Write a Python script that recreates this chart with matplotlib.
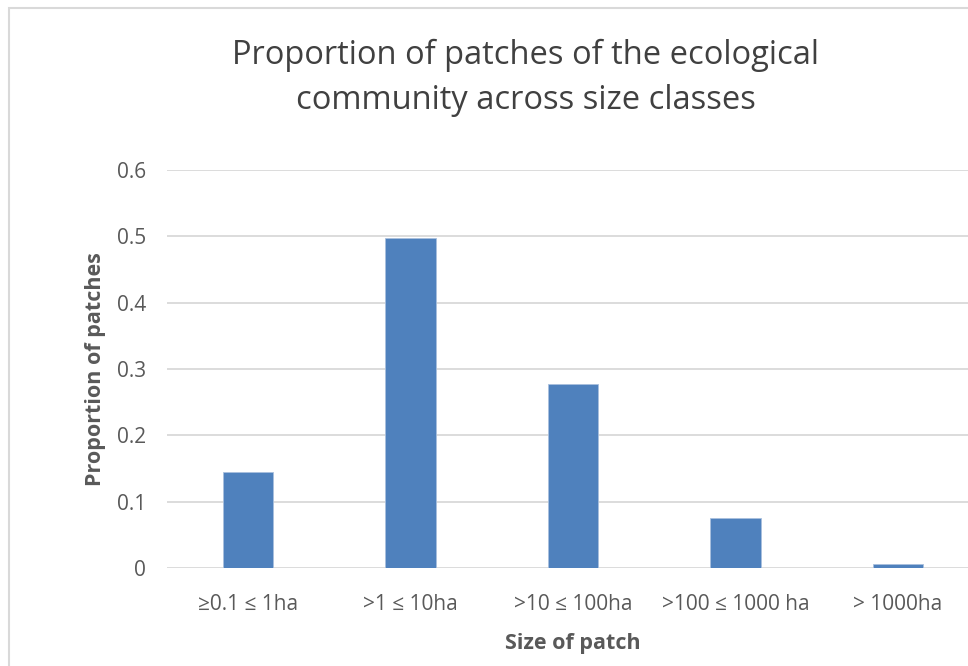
import matplotlib
matplotlib.use("Agg")
import matplotlib.pyplot as plt
from matplotlib.patches import Rectangle

categories = ["≥0.1 ≤ 1ha", ">1 ≤ 10ha", ">10 ≤ 100ha", ">100 ≤ 1000 ha", "> 1000ha"]
values = [0.145, 0.498, 0.277, 0.075, 0.006]
yticks = [0, 0.1, 0.2, 0.3, 0.4, 0.5, 0.6]
ytick_labels = ["0", "0.1", "0.2", "0.3", "0.4", "0.5", "0.6"]

plt.rcParams['font.family'] = ['Open Sans', 'DejaVu Sans']
W, H = 968, 666
fig = plt.figure(figsize=(W/100, H/100), dpi=100)
fig.patch.set_facecolor('white')

# chart border
fig.patches.append(Rectangle((9/W, -0.1), 1.2, 1 - 8/H + 0.1, transform=fig.transFigure,
                             fill=False, edgecolor='#d9d9d9', linewidth=1.5))

left, right = 166.75/W, 979/W
bottom, top = 1 - 568/H, 1 - 170/H
ax = fig.add_axes([left, bottom, right - left, top - bottom])
x = list(range(len(categories)))
ax.bar(x, values, width=0.31, color='#4f81bd', edgecolor='#a9c0de', linewidth=0.6, zorder=3)
ax.set_xlim(-0.5, len(categories) - 0.5)
ax.set_ylim(0, 0.6)
ax.set_yticks(yticks)
ax.set_yticklabels(ytick_labels)
ax.set_xticks(x)
ax.set_xticklabels(categories)
ax.yaxis.grid(True, color='#d9d9d9', linewidth=1.3, zorder=0)
for s in ax.spines.values():
    s.set_visible(False)
ax.tick_params(axis='both', length=0, colors='#595959', labelsize=15)
ax.tick_params(axis='y', pad=15)
ax.tick_params(axis='x', pad=19)
ax.set_ylabel("Proportion of patches", fontsize=15.5, fontweight='bold', color='#595959', labelpad=8)
ax.set_xlabel("Size of patch", fontsize=15.5, fontweight='bold', color='#595959', labelpad=13)

fig.text(526/W, 1 - 78/H, "Proportion of patches of the ecological\ncommunity across size classes",
         ha='center', va='center', fontsize=23.5, color='#404040', linespacing=1.45)

fig.savefig("out.png", dpi=100, facecolor='white')
